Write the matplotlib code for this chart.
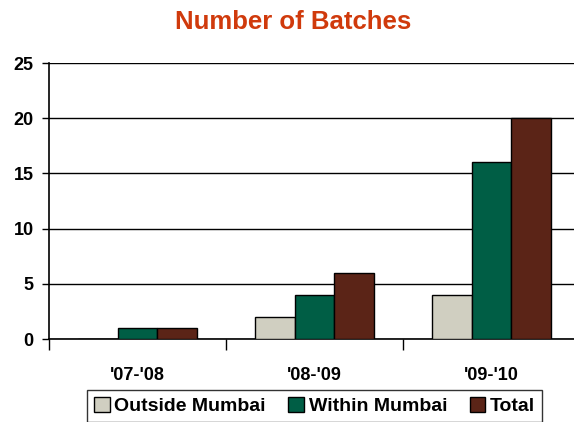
import matplotlib
matplotlib.use("Agg")
import matplotlib.pyplot as plt
import numpy as np

plt.rcParams['font.family'] = ['Liberation Sans', 'DejaVu Sans']
plt.rcParams['font.weight'] = 'bold'

years = ["'07-'08", "'08-'09", "'09-'10"]
series_names = ["Outside Mumbai", "Within Mumbai", "Total"]
outside = [0, 2, 4]
within = [1, 4, 16]
total = [1, 6, 20]
colors = ["#D0CFC1", "#005E45", "#5B2417"]
yticks = [0, 5, 10, 15, 20, 25]

fig = plt.figure(figsize=(5.74, 4.22), dpi=100)
# plot area runs off the right edge, like the cropped original
ax = fig.add_axes([49 / 574, 83 / 422, 531 / 574, 276 / 422])

x = np.arange(len(years))
width = 0.223
for i, (vals, name) in enumerate(zip([outside, within, total], series_names)) :
	ax.bar(x + (i - 1) * width, vals, width, color=colors[i], edgecolor="black",
	       linewidth=1.0, label=name, zorder=3)

ax.set_xlim(-0.5, 2.5)
ax.set_ylim(0, 25)
ax.set_yticks(yticks)
ax.yaxis.grid(True, color="black", linewidth=1.0, zorder=0)
ax.set_axisbelow(True)

ax.set_xticks([-0.5, 0.5, 1.5, 2.5])
ax.set_xticklabels([])
ax.set_xticks(x, minor=True)
ax.set_xticklabels(years, minor=True, fontsize=13, fontweight="bold")
ax.tick_params(axis="x", which="major", length=8, width=1, direction="out")
ax.tick_params(axis="x", which="minor", length=0, pad=20)
ax.tick_params(axis="y", length=5, width=1, direction="out", labelsize=13, pad=6)
for lab in ax.get_yticklabels() :
	lab.set_fontweight("bold")

for s in ["top", "right"] :
	ax.spines[s].set_visible(False)
ax.spines["left"].set_linewidth(1.2)
ax.spines["bottom"].set_linewidth(1.2)

fig.text(293 / 574, 1 - 22 / 422, "Number of Batches", ha="center", va="center",
         fontsize=18.5, fontweight="bold", color="#D03A0C")

leg = ax.legend(loc="upper center", bbox_to_anchor=(0.5, -0.185), ncol=3,
                frameon=True, fancybox=False, edgecolor="black", fontsize=14,
                handlelength=0.8, handleheight=0.8, handletextpad=0.25,
                columnspacing=1.15, borderpad=0.35, borderaxespad=0)
leg.get_frame().set_linewidth(1.0)
for t in leg.get_texts() :
	t.set_fontweight("bold")

plt.savefig("out.png", dpi=100)
